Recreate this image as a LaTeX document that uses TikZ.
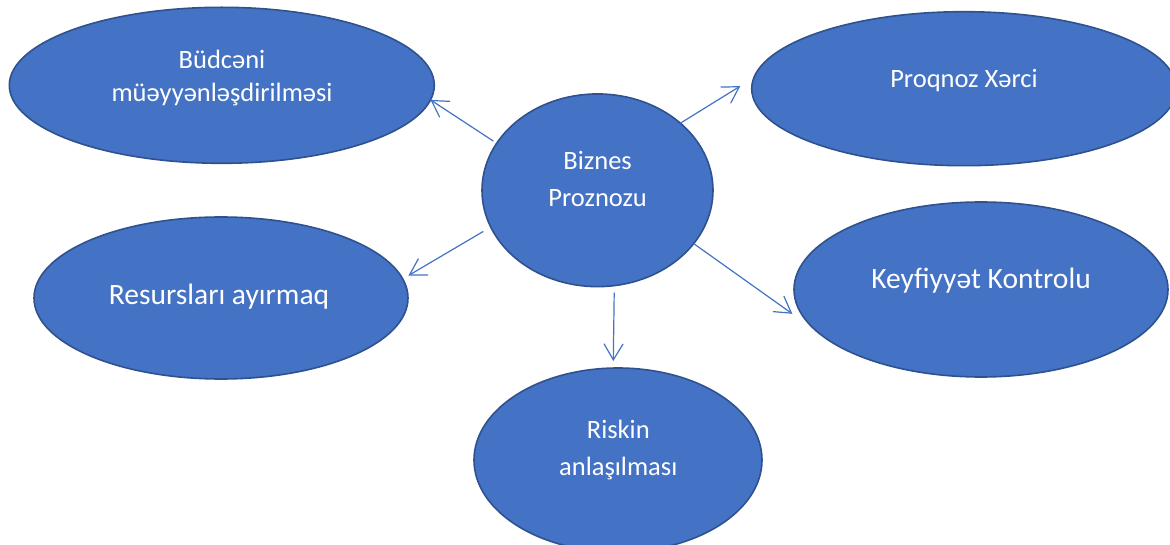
\documentclass[tikz,border=0pt]{standalone}
\usepackage{fontspec}
\setmainfont{Carlito}
\usetikzlibrary{shapes.geometric,arrows.meta}
\definecolor{fillblue}{HTML}{4472C4}
\definecolor{edgeblue}{HTML}{2F528F}
\definecolor{arrowblue}{HTML}{4472C4}
\begin{document}
\begin{tikzpicture}[x=1pt,y=-1pt,
  blob/.style={ellipse, draw=edgeblue, line width=1.6pt, fill=fillblue, inner sep=0pt, outer sep=0pt},
  lbl/.style={text=white, font=\fontsize{26.5}{35.5}\selectfont, align=center, anchor=base, inner sep=0pt},
  big/.style={font=\fontsize{29.5}{36}\selectfont},
  arr/.style={draw=arrowblue, line width=1.2pt, -{Straight Barb[length=16pt,width=19pt]}}]
\useasboundingbox (0,0) rectangle (1170,545);
\clip (0,0) rectangle (1170,545);
\node[blob, minimum width=425pt, minimum height=156pt] (bud) at (221.8,85.3) {};
\node[blob, minimum width=424.6pt, minimum height=154pt] (prog) at (964,88.7) {};
\node[blob, minimum width=231pt, minimum height=192.7pt] (biz) at (597.5,190.3) {};
\node[blob, minimum width=374pt, minimum height=162pt] (res) at (221,298) {};
\node[blob, minimum width=374pt, minimum height=175pt] (key) at (981,289.5) {};
\node[blob, minimum width=288pt, minimum height=184pt] (risk) at (618,460) {};
\node[lbl, font=\fontsize{26.5}{33.4}\selectfont] (budT) at (222,101.7) {Büdcəni\\müəyyənləşdirilməsi};
\node[lbl] (progT) at (964,87.7) {Proqnoz Xərci};
\node[lbl, font=\fontsize{26.5}{36.7}\selectfont] (bizT) at (597.6,206.7) {Biznes\\Proznozu};
\node[lbl, big] (resT) at (219,304.3) {Resursları ayırmaq};
\node[lbl, big] (keyT) at (981,288.3) {Keyfiyyət Kontrolu};
\node[lbl, font=\fontsize{26.5}{36.7}\selectfont] (riskT) at (618.3,475) {Riskin\\anlaşılması};
\draw[arr, shorten <=4pt] (biz.155) -- (bud.-4.6);
\draw[arr, shorten >=16pt] (biz.39) -- (prog.177);
\draw[arr, shorten <=8.6pt, shorten >=6.7pt] (biz.199) -- (res.6.9);
\draw[arr, shorten >=29pt] (biz.-29.6) -- (key.194.7);
\draw[arr, shorten <=7pt, shorten >=7pt] (biz.-80.5) -- (risk.93.1);
\end{tikzpicture}
\end{document}
